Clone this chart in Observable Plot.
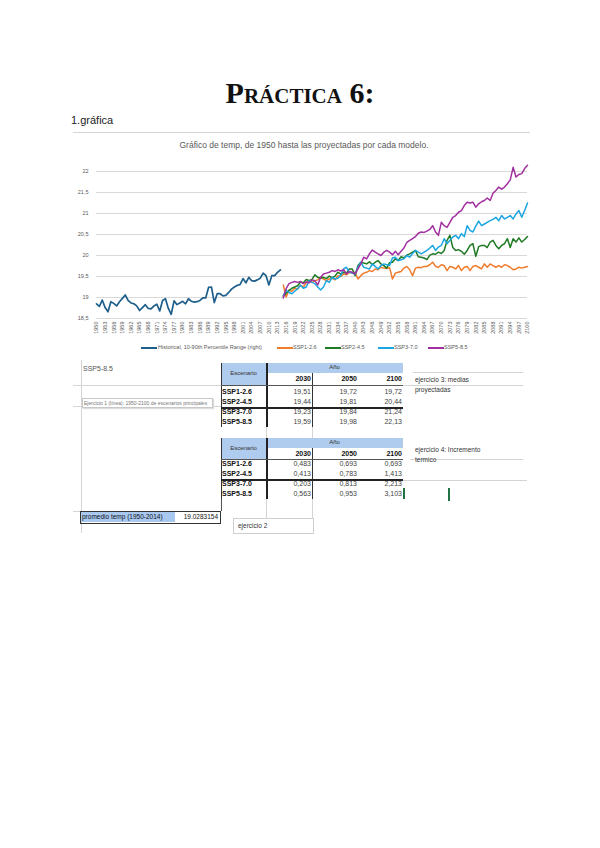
<!DOCTYPE html>
<html><head><meta charset="utf-8">
<script src="https://cdn.jsdelivr.net/npm/d3@7"></script>
<script src="https://cdn.jsdelivr.net/npm/@observablehq/plot@0.6"></script>
<style>
body{margin:0;background:#fff;}
#page{position:relative;width:600px;height:848px;background:#fff;overflow:hidden;font-family:"Liberation Sans",Arial,sans-serif;}
.abs{position:absolute;white-space:nowrap;}
</style></head><body><div id="page"></div>
<script>
// ---------------- DATA ----------------
const histStart = 1950;
const histTemp = [
  18.85, 18.79, 18.94, 18.76, 18.66, 18.90, 18.86, 18.80, 18.90, 18.98,
  19.06, 18.93, 18.87, 18.85, 18.80, 18.69, 18.76, 18.83, 18.74, 18.73,
  18.80, 18.84, 18.68, 18.93, 18.97, 18.74, 18.60, 18.92, 18.83, 18.87,
  18.91, 18.85, 18.97, 18.91, 18.89, 18.90, 18.93, 18.99, 18.99, 19.24,
  19.25, 18.88, 19.09, 19.09, 19.04, 19.05, 19.12, 19.20, 19.25, 19.29,
  19.31, 19.45, 19.35, 19.48, 19.40, 19.39, 19.42, 19.46, 19.58, 19.52,
  19.30, 19.52, 19.52, 19.60, 19.66
];
const projStart = 2015;
const ssp126 = [
  19.30, 19.01, 19.17, 19.15, 19.22, 19.20, 19.29, 19.25, 19.35, 19.41,
  19.36, 19.40, 19.42, 19.48, 19.44, 19.40, 19.44, 19.46, 19.42, 19.52,
  19.50, 19.56, 19.54, 19.60, 19.58, 19.60, 19.44, 19.52, 19.58, 19.60,
  19.64, 19.62, 19.68, 19.66, 19.72, 19.70, 19.69, 19.71, 19.44, 19.58,
  19.60, 19.62, 19.70, 19.74, 19.66, 19.52, 19.70, 19.72, 19.71, 19.74,
  19.74, 19.78, 19.84, 19.74, 19.72, 19.78, 19.76, 19.64, 19.74, 19.72,
  19.68, 19.76, 19.64, 19.72, 19.74, 19.64, 19.74, 19.76, 19.72, 19.68,
  19.80, 19.72, 19.80, 19.76, 19.72, 19.76, 19.72, 19.78, 19.76, 19.72,
  19.66, 19.68, 19.72, 19.70, 19.72, 19.74
];
const ssp245 = [
  19.03, 19.10, 19.17, 19.22, 19.25, 19.28, 19.37, 19.35, 19.43, 19.40,
  19.43, 19.54, 19.48, 19.46, 19.48, 19.45, 19.51, 19.47, 19.51, 19.60,
  19.56, 19.60, 19.58, 19.68, 19.68, 19.52, 19.76, 19.84, 19.82, 19.80,
  19.85, 19.78, 19.84, 19.88, 19.80, 19.76, 19.70, 19.83, 19.84, 19.92,
  19.88, 19.97, 19.94, 20.01, 20.04, 20.08, 20.12, 19.97, 19.96, 19.94,
  19.90, 20.01, 20.04, 20.03, 20.08, 20.05, 20.12, 20.36, 20.48, 20.19,
  20.12, 20.14, 20.10, 20.03, 20.12, 20.24, 20.28, 19.98, 20.21, 20.24,
  20.24, 20.19, 20.32, 20.36, 20.24, 20.16, 20.24, 20.28, 20.40, 20.19,
  20.40, 20.32, 20.42, 20.32, 20.38, 20.45
];
const ssp370 = [
  19.05, 19.17, 19.12, 19.09, 19.15, 19.21, 19.29, 19.22, 19.25, 19.40,
  19.36, 19.33, 19.25, 19.18, 19.25, 19.40, 19.36, 19.48, 19.44, 19.46,
  19.52, 19.68, 19.72, 19.60, 19.58, 19.56, 19.72, 19.84, 19.72, 19.70,
  19.68, 19.80, 19.74, 19.68, 19.76, 19.80, 19.78, 19.76, 19.94, 19.96,
  19.88, 19.90, 19.92, 20.00, 19.96, 20.05, 20.12, 20.08, 20.04, 20.08,
  20.12, 20.18, 20.24, 20.12, 20.20, 20.24, 20.40, 20.28, 20.36, 20.44,
  20.48, 20.40, 20.52, 20.45, 20.71, 20.60, 20.56, 20.70, 20.82, 20.71,
  20.75, 20.79, 20.83, 20.86, 20.91, 20.83, 20.95, 20.87, 20.91, 20.95,
  20.87, 20.99, 21.07, 20.91, 21.07, 21.25
];
const ssp585 = [
  18.99, 19.21, 19.33, 19.36, 19.38, 19.36, 19.38, 19.33, 19.37, 19.35,
  19.42, 19.40, 19.30, 19.48, 19.56, 19.58, 19.60, 19.64, 19.62, 19.66,
  19.63, 19.66, 19.56, 19.62, 19.60, 19.56, 19.68, 19.80, 19.96, 19.92,
  20.04, 20.13, 20.08, 20.04, 20.00, 20.08, 20.12, 20.08, 20.02, 20.10,
  20.02, 20.10, 20.18, 20.31, 20.36, 20.40, 20.45, 20.53, 20.56, 20.55,
  20.58, 20.62, 20.71, 20.56, 20.48, 20.79, 20.71, 20.67, 20.79, 20.91,
  20.95, 21.03, 21.07, 21.19, 21.27, 21.25, 21.27, 21.15, 21.23, 21.28,
  21.31, 21.37, 21.31, 21.48, 21.55, 21.63, 21.58, 21.63, 21.71, 21.80,
  22.10, 21.87, 21.93, 21.95, 22.07, 22.15
];
const seriesNames = ["Historical, 10-90th Percentile Range (right)", "SSP1-2.6", "SSP2-4.5", "SSP3-7.0", "SSP5-8.5"];
const seriesColors = ["#1f5f8b", "#f07c2c", "#1f7a23", "#1ba6e2", "#a22f9f"];
const yTicks = [18.5, 19, 19.5, 20, 20.5, 21, 21.5, 22];
const xTicks = [1950,1953,1956,1959,1962,1965,1968,1971,1974,1977,1980,1983,1986,1989,1992,1995,1998,
  2001,2004,2007,2010,2013,2016,2019,2022,2025,2028,2031,2034,2037,2040,2043,2046,2049,2052,2055,2058,
  2061,2064,2067,2070,2073,2076,2079,2082,2085,2088,2091,2094,2097,2100];

const scenarios = ["SSP1-2.6", "SSP2-4.5", "SSP3-7.0", "SSP5-8.5"];
const tableYears = ["2030", "2050", "2100"];
const medias = [[19.51, 19.72, 19.72], [19.44, 19.81, 20.44], [19.23, 19.84, 21.24], [19.59, 19.98, 22.13]];
const incrementos = [[0.483, 0.693, 0.693], [0.413, 0.783, 1.413], [0.203, 0.813, 2.213], [0.563, 0.953, 3.103]];
const promedioLabel = "promedio temp (1950-2014)";
const promedio = 19.0283154;

// ---------------- PAGE HELPERS ----------------
const page = document.getElementById("page");
function add(html, css) {
  const d = document.createElement("div");
  d.className = "abs";
  Object.assign(d.style, css);
  d.innerHTML = html;
  page.appendChild(d);
  return d;
}
function hline(x1, x2, y, color, w) { add("", {left: x1 + "px", top: y + "px", width: (x2 - x1) + "px", height: (w || 1) + "px", background: color}); }
function vline(x, y1, y2, color, w) { add("", {left: x + "px", top: y1 + "px", width: (w || 1) + "px", height: (y2 - y1) + "px", background: color}); }
function txt(s, x, y, size, opts) {
  opts = opts || {};
  const css = {top: (y - size * 0.6) + "px", fontSize: size + "px", lineHeight: (size * 1.2) + "px", color: opts.color || "#222", fontWeight: opts.bold ? "bold" : "normal"};
  if (opts.align === "right") { css.right = (600 - x) + "px"; css.textAlign = "right"; }
  else if (opts.align === "center") { css.left = (x - 300) + "px"; css.width = "600px"; css.textAlign = "center"; }
  else css.left = x + "px";
  if (opts.family) css.fontFamily = opts.family;
  return add(s, css);
}

// Title
add("Práctica 6:", {left: "0px", width: "600px", top: "78px", textAlign: "center", fontFamily: "'Liberation Serif', 'DejaVu Serif', serif",
  fontWeight: "bold", fontVariant: "small-caps", fontSize: "30px", lineHeight: "30px", color: "#111"});
txt("1.gráfica", 71, 121, 11, {color: "#222"});
hline(73, 530, 132, "#d6d6d6");
txt("Gráfico de temp, de 1950 hasta las proyectadas por cada modelo.", 304, 145, 8.5, {align: "center", color: "#595959"});

// ---------------- CHART ----------------
const hist = histTemp.map((t, i) => ({year: histStart + i, temp: t}));
const projAll = [ssp126, ssp245, ssp370, ssp585].map(arr => arr.map((t, i) => ({year: projStart + i, temp: t})));

const chart = Plot.plot({
  width: 480, height: 185,
  marginLeft: 36, marginRight: 13, marginTop: 11, marginBottom: 27,
  style: {fontFamily: "'Liberation Sans', Arial, sans-serif", color: "#595959", background: "transparent"},
  x: {domain: [1950, 2100]},
  y: {domain: [18.5, 22]},
  marks: [
    Plot.gridY(yTicks, {stroke: "#d9d9d9", strokeOpacity: 1}),
    Plot.axisY({ticks: yTicks, tickFormat: d => String(d).replace(".", ","), tickSize: 0, tickPadding: 8, fontSize: 5.5, label: null}),
    Plot.axisX({ticks: xTicks, tickFormat: d => String(d), tickRotate: -90, tickSize: 0, tickPadding: 3, fontSize: 5.5, label: null}),
    Plot.line(hist, {x: "year", y: "temp", stroke: seriesColors[0], strokeWidth: 1.7}),
    ...projAll.map((d, i) => Plot.line(d, {x: "year", y: "temp", stroke: seriesColors[i + 1], strokeWidth: 1.5}))
  ]
});
chart.style.position = "absolute";
chart.style.left = "60px";
chart.style.top = "160px";
page.appendChild(chart);

// Legend
const legendPos = [[141, 158], [277, 293], [325, 341], [378, 394], [428, 444]];
seriesNames.forEach((n, i) => {
  const [lx, tx] = legendPos[i];
  hline(lx, lx + 16, 347, seriesColors[i], 1.6);
  txt(n, tx, 347.5, 5.5, {color: "#595959"});
});

// ---------------- SPREADSHEET AREA ----------------
const grid = "#d4d4d4";
const blue = "#afcbed";
vline(81, 360, 533, grid);
hline(73, 221, 385, grid);
hline(73, 221, 406, grid);
txt("SSP5-8.5", 83, 369, 7, {color: "#555"});

// tooltip-like note
add("Ejercicio 1 (línea): 1950-2100 de escenarios principales", {left: "82px", top: "398px", width: "128px", height: "8px", fontSize: "5px", lineHeight: "8px",
  color: "#777", border: "1px solid #c8c8c8", boxShadow: "1px 1px 1px #ddd", overflow: "hidden", paddingLeft: "1px", background: "#fff"});

function drawTable(top, headH, dataTop, values, digits) {
  const L = 221, C1 = 266, C2 = 312, C3 = 358, R = 403;
  add("", {left: L + "px", top: top + "px", width: (C1 - L) + "px", height: headH + "px", background: blue});
  add("", {left: C1 + "px", top: top + "px", width: (R - C1) + "px", height: "10px", background: blue});
  txt("Escenario", (L + C1) / 2, top + headH / 2, 6, {align: "center", color: "#333"});
  txt("Año", (C1 + R) / 2, top + 5, 6, {align: "center", color: "#333"});
  const yr = (top + 10 + top + headH) / 2 + 0.5;
  tableYears.forEach((y, j) => txt(y, [C2, C3, R][j] - 1, yr, 7, {align: "right", bold: true, color: "#111"}));
  const bottom = dataTop + 40;
  vline(L, top, bottom, "#333", 1.2);
  vline(C1, top, bottom, "#222", 1.5);
  vline(C2, top + 10, bottom, "#333", 1);
  hline(L, R, top + headH, "#555", 1);
  hline(L, R, dataTop + 20, "#222", 1.5);
  scenarios.forEach((s, i) => {
    const cy = dataTop + 5 + i * 10;
    txt(s, L + 1, cy, 7, {bold: true, color: "#111"});
    values[i].forEach((v, j) => txt(v.toFixed(digits).replace(".", ","), [C2, C3, R][j] - 1, cy, 7, {align: "right", color: "#444"}));
  });
}
drawTable(363, 22, 387, medias, 2);
drawTable(438, 21, 459, incrementos, 3);

// gridlines between / around tables
vline(266, 427, 438, grid); vline(312, 427, 438, grid);
vline(266, 499, 518, grid); vline(312, 499, 518, grid);
vline(221, 499, 511, "#555", 1);
hline(413, 523, 372, grid);
hline(403, 523, 385, grid);
hline(410, 523, 459, grid);
hline(403, 527, 480, grid);

txt("ejercicio 3: medias", 415, 380, 6.5, {color: "#333"});
txt("proyectadas", 415, 389.5, 6.5, {color: "#333"});
txt("ejercicio 4: Incremento", 415, 450, 6.5, {color: "#333"});
txt("termico", 415, 460, 6.5, {color: "#333"});

// active cell cursor marks
vline(403, 488, 499, "#217346", 1.5);
vline(448, 488, 501, "#217346", 1.5);

// promedio box
hline(73, 80, 511, grid);
add("", {left: "80px", top: "511px", width: "139px", height: "11px", border: "1px solid #333"});
add("", {left: "81px", top: "512px", width: "94px", height: "10px", background: "#a9c8f0"});
txt(promedioLabel, 82, 517, 6.5, {color: "#111"});
txt(String(promedio), 218, 517, 6.5, {align: "right", color: "#111"});

// ejercicio 2 box
add("", {left: "233px", top: "518px", width: "79px", height: "14px", border: "1px solid #cfcfcf", background: "#fff"});
txt("ejercicio 2", 238, 525.5, 6.5, {color: "#333"});
</script></body></html>
